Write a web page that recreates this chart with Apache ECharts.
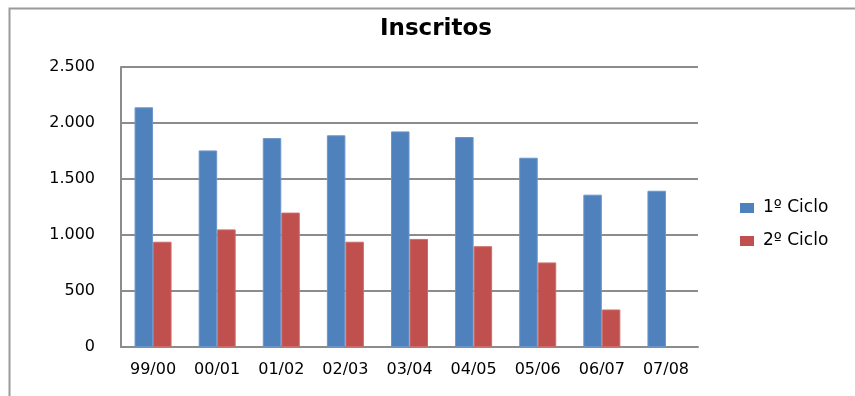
<!DOCTYPE html>
<html>
<head>
<meta charset="utf-8">
<script src="https://cdn.jsdelivr.net/npm/echarts@6/dist/echarts.min.js"></script>
<style>
  html, body { margin: 0; padding: 0; background: #ffffff; }
  #chart { width: 855px; height: 396px; }
</style>
</head>
<body>
<div id="chart"></div>
<script>
const titleText = 'Inscritos';
const categories = ['99/00', '00/01', '01/02', '02/03', '03/04', '04/05', '05/06', '06/07', '07/08'];
const seriesNames = ['1º Ciclo', '2º Ciclo'];
const ciclo1 = [2140, 1755, 1865, 1890, 1925, 1875, 1690, 1360, 1395];
const ciclo2 = [940, 1050, 1200, 940, 965, 900, 755, 335, null];
const yTicks = [0, 500, 1000, 1500, 2000, 2500];
const yTickLabels = ['0', '500', '1.000', '1.500', '2.000', '2.500'];

const chart = echarts.init(document.getElementById('chart'), null, { renderer: 'canvas' });
const font = 'DejaVu Sans';

chart.setOption({
  animation: false,
  backgroundColor: '#ffffff',
  graphic: [{
    type: 'rect',
    shape: { x: 9.5, y: 8.5, width: 1000, height: 600 },
    style: { fill: 'none', stroke: '#9a9a9a', lineWidth: 2 },
    silent: true
  }],
  title: {
    text: titleText,
    left: 380,
    top: 18,
    padding: 0,
    textStyle: { fontFamily: font, fontWeight: 'bold', fontSize: 23, color: '#000000' }
  },
  legend: {
    orient: 'vertical',
    left: 740,
    top: 199,
    padding: 0,
    itemWidth: 14,
    itemHeight: 10,
    itemGap: 15,
    icon: 'rect',
    itemStyle: { borderWidth: 0 },
    textStyle: { fontFamily: font, fontSize: 17, color: '#000000', lineHeight: 18, padding: [0, 0, 0, 4] },
    data: seriesNames
  },
  grid: { left: 121, right: 157, top: 67, bottom: 49, containLabel: false },
  xAxis: {
    type: 'category',
    data: categories,
    axisLine: { show: true, lineStyle: { color: '#8c8c8c', width: 2 } },
    axisTick: { show: false },
    axisLabel: { fontFamily: font, fontSize: 16, color: '#000000', margin: 15 }
  },
  yAxis: {
    type: 'value',
    min: yTicks[0],
    max: yTicks[yTicks.length - 1],
    interval: yTicks[1] - yTicks[0],
    axisLine: { show: true, lineStyle: { color: '#8c8c8c', width: 2 } },
    axisTick: { show: false },
    splitLine: { show: true, lineStyle: { color: '#8c8c8c', width: 2 } },
    axisLabel: {
      fontFamily: font, fontSize: 16, color: '#000000', margin: 26,
      formatter: function (v) { const i = yTicks.indexOf(v); return i >= 0 ? yTickLabels[i] : ''; }
    }
  },
  series: [
    {
      name: seriesNames[0], type: 'bar', data: ciclo1,
      barWidth: 18.5, barGap: '0%',
      itemStyle: { color: '#4F81BD', borderColor: '#6b95ca', borderWidth: 1 }
    },
    {
      name: seriesNames[1], type: 'bar', data: ciclo2,
      barWidth: 18.5, barGap: '0%',
      itemStyle: { color: '#C0504D', borderColor: '#cc6c69', borderWidth: 1 }
    }
  ]
});
</script>
</body>
</html>
